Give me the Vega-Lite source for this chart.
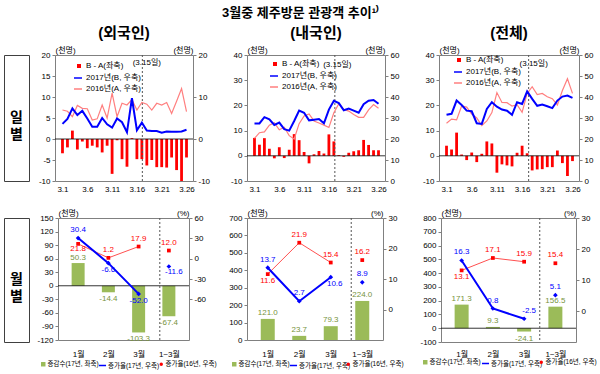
{
  "$schema": "https://vega.github.io/schema/vega-lite/v6.json",
  "padding": {"left": 3, "top": 6, "right": 0, "bottom": 0},
  "title": {"text": "3월중 제주방문 관광객 추이¹⁾", "fontSize": 13, "fontWeight": "bold", "anchor": "middle", "offset": 6},
  "datasets": {
    "daily": [
      {"d":1,"fd":-3.4,"f17":3.6,"f16":6.9,"nd":7.1,"n17":27.4,"n16":20.3,"td":4.0,"t17":31.5,"t16":27.5},
      {"d":2,"fd":-2.0,"f17":4.8,"f16":6.6,"nd":4.4,"n17":27.4,"n16":23.0,"td":2.5,"t17":32.0,"t16":29.5},
      {"d":3,"fd":2.0,"f17":7.3,"f16":5.3,"nd":7.0,"n17":30.4,"n16":23.4,"td":9.2,"t17":38.3,"t16":29.1},
      {"d":4,"fd":-2.5,"f17":5.7,"f16":8.0,"nd":2.8,"n17":29.4,"n16":26.6,"td":0.5,"t17":36.2,"t16":35.7},
      {"d":5,"fd":-0.6,"f17":6.7,"f16":7.3,"nd":-1.0,"n17":26.7,"n16":27.7,"td":-1.7,"t17":33.5,"t16":35.2},
      {"d":6,"fd":-2.2,"f17":4.9,"f16":7.2,"nd":3.4,"n17":27.8,"n16":24.4,"td":1.3,"t17":33.2,"t16":31.9},
      {"d":7,"fd":-1.6,"f17":2.9,"f16":4.5,"nd":-0.9,"n17":24.7,"n16":25.6,"td":-2.5,"t17":27.5,"t16":30.0},
      {"d":8,"fd":-2.0,"f17":2.9,"f16":4.8,"nd":2.4,"n17":24.0,"n16":21.6,"td":0.8,"t17":27.2,"t16":26.4},
      {"d":9,"fd":-3.2,"f17":5.0,"f16":8.1,"nd":8.6,"n17":28.6,"n16":20.0,"td":5.7,"t17":34.3,"t16":28.6},
      {"d":10,"fd":-1.6,"f17":3.5,"f16":5.0,"nd":6.2,"n17":33.5,"n16":27.3,"td":4.9,"t17":37.5,"t16":32.6},
      {"d":11,"fd":-8.3,"f17":2.7,"f16":10.9,"nd":1.5,"n17":32.5,"n16":31.0,"td":-6.7,"t17":35.4,"t16":42.1},
      {"d":12,"fd":-0.3,"f17":4.9,"f16":5.3,"nd":-3.0,"n17":28.9,"n16":31.9,"td":-3.4,"t17":34.0,"t16":37.4},
      {"d":13,"fd":-4.8,"f17":4.0,"f16":8.5,"nd":0.6,"n17":29.2,"n16":28.6,"td":-3.8,"t17":33.5,"t16":37.3},
      {"d":14,"fd":-6.6,"f17":1.6,"f16":8.1,"nd":1.9,"n17":29.5,"n16":27.6,"td":-4.2,"t17":31.5,"t16":35.7},
      {"d":15,"fd":0.2,"f17":9.7,"f16":9.4,"nd":0.9,"n17":27.5,"n16":26.6,"td":1.2,"t17":37.5,"t16":36.3},
      {"d":16,"fd":-4.8,"f17":2.1,"f16":6.9,"nd":8.5,"n17":34.0,"n16":25.5,"td":4.0,"t17":36.7,"t16":32.7},
      {"d":17,"fd":-4.8,"f17":3.9,"f16":8.7,"nd":5.7,"n17":38.2,"n16":32.5,"td":1.0,"t17":42.7,"t16":41.7},
      {"d":18,"fd":-6.3,"f17":2.0,"f16":8.3,"nd":0.3,"n17":37.1,"n16":36.8,"td":-5.8,"t17":39.1,"t16":44.9},
      {"d":19,"fd":-5.0,"f17":1.9,"f16":6.9,"nd":-0.4,"n17":33.7,"n16":34.1,"td":-5.4,"t17":35.8,"t16":41.2},
      {"d":20,"fd":-6.7,"f17":1.9,"f16":8.5,"nd":1.2,"n17":34.5,"n16":33.3,"td":-5.3,"t17":36.4,"t16":41.7},
      {"d":21,"fd":-6.7,"f17":1.5,"f16":8.1,"nd":1.8,"n17":33.5,"n16":31.7,"td":-4.5,"t17":35.6,"t16":40.1},
      {"d":22,"fd":-6.8,"f17":1.8,"f16":8.7,"nd":2.2,"n17":32.5,"n16":30.3,"td":-4.5,"t17":34.7,"t16":39.2},
      {"d":23,"fd":-4.4,"f17":1.7,"f16":6.1,"nd":6.3,"n17":36.6,"n16":30.3,"td":2.1,"t17":38.3,"t16":36.2},
      {"d":24,"fd":-7.4,"f17":1.7,"f16":9.0,"nd":4.3,"n17":38.2,"n16":33.9,"td":-2.9,"t17":40.2,"t16":43.1},
      {"d":25,"fd":-10.0,"f17":1.8,"f16":12.0,"nd":2.2,"n17":38.6,"n16":36.4,"td":-8.0,"t17":40.7,"t16":48.7},
      {"d":26,"fd":-4.4,"f17":2.2,"f16":6.5,"nd":2.2,"n17":36.8,"n16":34.6,"td":-2.1,"t17":39.6,"t16":41.7}
    ],
    "monthly": [
      {"g":"외국인","i":1,"bar":50.3,"r17":30.4,"r16":21.8},
      {"g":"외국인","i":2,"bar":-14.4,"r17":-6.6,"r16":1.2},
      {"g":"외국인","i":3,"bar":-103.3,"r17":-52.0,"r16":17.9},
      {"g":"외국인","i":4,"bar":-67.4,"r17":-11.6,"r16":12.0},
      {"g":"내국인","i":1,"bar":121.0,"r17":13.7,"r16":11.6},
      {"g":"내국인","i":2,"bar":23.7,"r17":2.7,"r16":21.9},
      {"g":"내국인","i":3,"bar":79.3,"r17":10.6,"r16":15.4},
      {"g":"내국인","i":4,"bar":224.0,"r17":8.9,"r16":16.2},
      {"g":"전체","i":1,"bar":171.3,"r17":16.3,"r16":13.1},
      {"g":"전체","i":2,"bar":9.3,"r17":0.8,"r16":17.1},
      {"g":"전체","i":3,"bar":-24.1,"r17":-2.5,"r16":15.9},
      {"g":"전체","i":4,"bar":156.5,"r17":5.1,"r16":15.4}
    ]
  },
  "spacing": 14,
  "resolve": {"scale": {"x": "independent", "y": "independent", "fill": "independent", "stroke": "independent", "color": "independent"}, "legend": {"fill": "independent", "stroke": "independent", "color": "independent"}},
  "vconcat": [
    {
      "spacing": 26,
      "bounds": "flush",
      "resolve": {"scale": {"x": "independent", "y": "independent", "fill": "independent", "stroke": "independent", "color": "independent"}, "legend": {"fill": "independent", "stroke": "independent", "color": "independent"}},
      "hconcat": [
        {"width": 25, "height": 126, "view": {"stroke": "#404040"}, "data": {"values": [{}]},
         "mark": {"type": "text", "fontSize": 14, "fontWeight": "bold", "lineHeight": 17},
         "encoding": {"text": {"value": ["일", "별"]}}},
        {
          "spacing": 54,
          "bounds": "flush",
          "resolve": {"scale": {"x": "independent", "y": "independent", "fill": "independent", "stroke": "independent", "color": "independent"}, "legend": {"fill": "independent", "stroke": "independent", "color": "independent"}},
          "hconcat": [
            {
              "width": 138, "height": 126,
              "data": {"name": "daily"},
              "title": {"text": "(외국인)", "fontSize": 15, "fontWeight": "bold", "offset": 5},
              "resolve": {"scale": {"y": "independent"}},
              "layer": [
                {"layer": [
                  {"mark": {"type": "bar", "width": 2.8},
                   "encoding": {
                     "x": {"field": "d", "type": "quantitative", "scale": {"domain": [0.5, 26.3], "nice": false, "zero": false}, "axis": {"values": [1,6,11,16,21,26], "tickCount": 40, "labelExpr": "'3.' + datum.value", "title": null, "ticks": false, "labelPadding": 4, "labelFlush": false, "labelOverlap": false}},
                     "y": {"field": "fd", "type": "quantitative", "scale": {"domain": [-10, 20], "nice": false}, "axis": {"values": [-10,-5,0,5,10,15,20], "tickCount": 40, "labelOverlap": false, "title": "(천명)", "titleAngle": 0, "titleAlign": "left", "titleBaseline": "bottom", "titleX": 0, "titleY": -1}},
                     "fill": {"datum": "B - A(좌축)", "type": "nominal", "scale": {"range": ["#FF0000"]}, "legend": {"orient": "none", "legendX": 20, "legendY": 7, "title": null, "symbolType": "square", "symbolSize": 16, "labelFontSize": 8, "padding": 0, "labelOffset": 3}}
                   }},
                  {"transform": [{"filter": "datum.d == 1"}], "mark": {"type": "rule", "color": "#000", "strokeWidth": 0.8}, "encoding": {"y": {"datum": 0}}},
                  {"transform": [{"filter": "datum.d == 1"}], "mark": {"type": "rule", "color": "#555", "strokeDash": [2, 2]}, "encoding": {"x": {"datum": 17.1}}},
                  {"transform": [{"filter": "datum.d == 1"}], "mark": {"type": "text", "fontSize": 8}, "encoding": {"x": {"datum": 18}, "y": {"datum": 18}, "text": {"value": "(3.15일)"}}}
                ]},
                {"layer": [
                  {"mark": {"type": "line", "strokeWidth": 1.2},
                   "encoding": {
                     "x": {"field": "d", "type": "quantitative", "scale": {"domain": [0.5, 26.3], "nice": false, "zero": false}},
                     "y": {"field": "f16", "type": "quantitative", "scale": {"domain": [-10, 20], "nice": false}, "axis": {"orient": "right", "values": [-10,0,10,20], "tickCount": 40, "labelOverlap": false, "title": "(천명)", "titleAngle": 0, "titleAlign": "right", "titleBaseline": "bottom", "titleX": 0, "titleY": -1}},
                     "stroke": {"datum": "2016년(A, 우축)", "type": "nominal", "scale": {"domain": ["2017년(B, 우축)", "2016년(A, 우축)"], "range": ["#0000FF", "#FF7F7F"]}, "legend": {"orient": "none", "legendX": 18, "legendY": 18, "title": null, "symbolType": "stroke", "symbolSize": 64, "symbolStrokeWidth": 1.5, "labelFontSize": 8, "padding": 0, "rowPadding": 2, "labelOffset": 3}}
                   }},
                  {"mark": {"type": "line", "strokeWidth": 2},
                   "encoding": {
                     "x": {"field": "d", "type": "quantitative"},
                     "y": {"field": "f17", "type": "quantitative", "scale": {"domain": [-10, 20], "nice": false}},
                     "stroke": {"datum": "2017년(B, 우축)", "type": "nominal"}
                   }}
                ]}
              ]
            },
            {
              "width": 138, "height": 126,
              "data": {"name": "daily"},
              "title": {"text": "(내국인)", "fontSize": 15, "fontWeight": "bold", "offset": 5},
              "resolve": {"scale": {"y": "independent"}},
              "layer": [
                {"layer": [
                  {"mark": {"type": "bar", "width": 2.8},
                   "encoding": {
                     "x": {"field": "d", "type": "quantitative", "scale": {"domain": [0.5, 26.3], "nice": false, "zero": false}, "axis": {"values": [1,6,11,16,21,26], "tickCount": 40, "labelExpr": "'3.' + datum.value", "title": null, "ticks": false, "labelPadding": 4, "labelFlush": false, "labelOverlap": false}},
                     "y": {"field": "nd", "type": "quantitative", "scale": {"domain": [-10, 40], "nice": false}, "axis": {"values": [-10,0,10,20,30,40], "tickCount": 40, "labelOverlap": false, "title": "(천명)", "titleAngle": 0, "titleAlign": "left", "titleBaseline": "bottom", "titleX": 0, "titleY": -1}},
                     "fill": {"datum": "B - A(좌축)", "type": "nominal", "scale": {"range": ["#FF0000"]}, "legend": {"orient": "none", "legendX": 24, "legendY": 5, "title": null, "symbolType": "square", "symbolSize": 16, "labelFontSize": 8, "padding": 0, "labelOffset": 3}}
                   }},
                  {"transform": [{"filter": "datum.d == 1"}], "mark": {"type": "rule", "color": "#000", "strokeWidth": 0.8}, "encoding": {"y": {"datum": 0}}},
                  {"transform": [{"filter": "datum.d == 1"}], "mark": {"type": "rule", "color": "#555", "strokeDash": [2, 2]}, "encoding": {"x": {"datum": 17.2}}},
                  {"transform": [{"filter": "datum.d == 1"}], "mark": {"type": "text", "fontSize": 8}, "encoding": {"x": {"datum": 17.7}, "y": {"datum": 36.2}, "text": {"value": "(3.15일)"}}}
                ]},
                {"layer": [
                  {"mark": {"type": "line", "strokeWidth": 1.2},
                   "encoding": {
                     "x": {"field": "d", "type": "quantitative", "scale": {"domain": [0.5, 26.3], "nice": false, "zero": false}},
                     "y": {"field": "n16", "type": "quantitative", "scale": {"domain": [0, 60], "nice": false}, "axis": {"orient": "right", "values": [0,10,20,30,40,50,60], "tickCount": 40, "labelOverlap": false, "title": "(천명)", "titleAngle": 0, "titleAlign": "right", "titleBaseline": "bottom", "titleX": 0, "titleY": -1}},
                     "stroke": {"datum": "2016년(A, 우축)", "type": "nominal", "scale": {"domain": ["2017년(B, 우축)", "2016년(A, 우축)"], "range": ["#0000FF", "#FF7F7F"]}, "legend": {"orient": "none", "legendX": 22, "legendY": 16, "title": null, "symbolType": "stroke", "symbolSize": 64, "symbolStrokeWidth": 1.5, "labelFontSize": 8, "padding": 0, "rowPadding": 2, "labelOffset": 3}}
                   }},
                  {"mark": {"type": "line", "strokeWidth": 2},
                   "encoding": {
                     "x": {"field": "d", "type": "quantitative"},
                     "y": {"field": "n17", "type": "quantitative", "scale": {"domain": [0, 60], "nice": false}},
                     "stroke": {"datum": "2017년(B, 우축)", "type": "nominal"}
                   }}
                ]}
              ]
            },
            {
              "width": 140, "height": 126,
              "data": {"name": "daily"},
              "title": {"text": "(전체)", "fontSize": 15, "fontWeight": "bold", "offset": 5},
              "resolve": {"scale": {"y": "independent"}},
              "layer": [
                {"layer": [
                  {"mark": {"type": "bar", "width": 2.8},
                   "encoding": {
                     "x": {"field": "d", "type": "quantitative", "scale": {"domain": [0.5, 26.3], "nice": false, "zero": false}, "axis": {"values": [1,6,11,16,21,26], "tickCount": 40, "labelExpr": "'3.' + datum.value", "title": null, "ticks": false, "labelPadding": 4, "labelFlush": false, "labelOverlap": false}},
                     "y": {"field": "td", "type": "quantitative", "scale": {"domain": [-10, 40], "nice": false}, "axis": {"values": [-10,0,10,20,30,40], "tickCount": 40, "labelOverlap": false, "title": "(천명)", "titleAngle": 0, "titleAlign": "left", "titleBaseline": "bottom", "titleX": 0, "titleY": -1}},
                     "fill": {"datum": "B - A(좌축)", "type": "nominal", "scale": {"range": ["#FF0000"]}, "legend": {"orient": "none", "legendX": 16, "legendY": 1, "title": null, "symbolType": "square", "symbolSize": 16, "labelFontSize": 8, "padding": 0, "labelOffset": 3}}
                   }},
                  {"transform": [{"filter": "datum.d == 1"}], "mark": {"type": "rule", "color": "#000", "strokeWidth": 0.8}, "encoding": {"y": {"datum": 0}}},
                  {"transform": [{"filter": "datum.d == 1"}], "mark": {"type": "rule", "color": "#555", "strokeDash": [2, 2]}, "encoding": {"x": {"datum": 17.3}}},
                  {"transform": [{"filter": "datum.d == 1"}], "mark": {"type": "text", "fontSize": 8}, "encoding": {"x": {"datum": 18.3}, "y": {"datum": 36.4}, "text": {"value": "(3.15일)"}}}
                ]},
                {"layer": [
                  {"mark": {"type": "line", "strokeWidth": 1.2},
                   "encoding": {
                     "x": {"field": "d", "type": "quantitative", "scale": {"domain": [0.5, 26.3], "nice": false, "zero": false}},
                     "y": {"field": "t16", "type": "quantitative", "scale": {"domain": [0, 60], "nice": false}, "axis": {"orient": "right", "values": [0,10,20,30,40,50,60], "tickCount": 40, "labelOverlap": false, "title": "(천명)", "titleAngle": 0, "titleAlign": "right", "titleBaseline": "bottom", "titleX": 0, "titleY": -1}},
                     "stroke": {"datum": "2016년(A, 우축)", "type": "nominal", "scale": {"domain": ["2017년(B, 우축)", "2016년(A, 우축)"], "range": ["#0000FF", "#FF7F7F"]}, "legend": {"orient": "none", "legendX": 14, "legendY": 12, "title": null, "symbolType": "stroke", "symbolSize": 64, "symbolStrokeWidth": 1.5, "labelFontSize": 8, "padding": 0, "rowPadding": 2, "labelOffset": 3}}
                   }},
                  {"mark": {"type": "line", "strokeWidth": 2},
                   "encoding": {
                     "x": {"field": "d", "type": "quantitative"},
                     "y": {"field": "t17", "type": "quantitative", "scale": {"domain": [0, 60], "nice": false}},
                     "stroke": {"datum": "2017년(B, 우축)", "type": "nominal"}
                   }}
                ]}
              ]
            }
          ]
        }
      ]
    },
    {
      "spacing": 29,
      "bounds": "flush",
      "resolve": {"scale": {"x": "independent", "y": "independent", "fill": "independent", "stroke": "independent", "color": "independent"}, "legend": {"fill": "independent", "stroke": "independent", "color": "independent"}},
      "hconcat": [
        {"width": 25, "height": 124, "view": {"stroke": "#404040"}, "data": {"values": [{}]},
         "mark": {"type": "text", "fontSize": 14, "fontWeight": "bold", "lineHeight": 17},
         "encoding": {"text": {"value": ["월", "별"]}}},
        {
          "spacing": 58,
          "bounds": "flush",
          "resolve": {"scale": {"x": "independent", "y": "independent", "fill": "independent", "stroke": "independent", "color": "independent"}, "legend": {"fill": "independent", "stroke": "independent", "color": "independent"}},
          "hconcat": [
            {
              "width": 131, "height": 122,
              "data": {"name": "monthly"},
              "transform": [{"filter": "datum.g == '외국인'"}],
              "resolve": {"scale": {"y": "independent"}},
              "layer": [
                {"layer": [
                  {"mark": {"type": "bar", "width": 13},
                   "encoding": {
                     "x": {"field": "i", "type": "quantitative", "scale": {"domain": [0.5, 4.5], "nice": false, "zero": false}, "axis": {"values": [1,2,3,4], "tickCount": 40, "labelExpr": "['', '1월', '2월', '3월', '1~3월'][datum.value]", "title": null, "ticks": false, "labelPadding": 10, "labelFlush": false, "labelOverlap": false}},
                     "y": {"field": "bar", "type": "quantitative", "scale": {"domain": [-120, 150], "nice": false}, "axis": {"values": [-120,-90,-60,-30,0,30,60,90,120,150], "tickCount": 40, "labelOverlap": false, "title": "(천명)", "titleAngle": 0, "titleAlign": "left", "titleBaseline": "bottom", "titleX": 0, "titleY": -1}},
                     "fill": {"datum": "증감수(17년, 좌축)", "type": "nominal", "scale": {"range": ["#9BBB59"]}, "legend": {"orient": "none", "legendX": -18, "legendY": 143, "title": null, "symbolType": "square", "symbolSize": 20, "labelFontSize": 6.5, "padding": 0, "labelOffset": 1}}
                   }},
                  {"transform": [{"filter": "datum.i == 1"}], "mark": {"type": "rule", "color": "#000", "strokeWidth": 0.8}, "encoding": {"y": {"datum": 0}}},
                  {"transform": [{"filter": "datum.i == 1"}], "mark": {"type": "rule", "color": "#555", "strokeDash": [2, 2]}, "encoding": {"x": {"datum": 3.7}}},
                  {"transform": [{"filter": "datum.bar >= 0"}], "mark": {"type": "text", "baseline": "bottom", "dy": -1, "fontSize": 8, "color": "#77933C"},
                   "encoding": {"x": {"field": "i", "type": "quantitative"}, "y": {"field": "bar", "type": "quantitative"}, "text": {"field": "bar", "type": "quantitative", "format": ".1f"}}},
                  {"transform": [{"filter": "datum.bar < 0"}], "mark": {"type": "text", "baseline": "top", "dy": 3, "fontSize": 8, "color": "#77933C"},
                   "encoding": {"x": {"field": "i", "type": "quantitative"}, "y": {"field": "bar", "type": "quantitative"}, "text": {"field": "bar", "type": "quantitative", "format": ".1f"}}}
                ]},
                {"layer": [
                  {"transform": [{"filter": "datum.i <= 3"}], "mark": {"type": "line", "strokeWidth": 1, "color": "#FF5050"},
                   "encoding": {
                     "x": {"field": "i", "type": "quantitative", "scale": {"domain": [0.5, 4.5], "nice": false, "zero": false}},
                     "y": {"field": "r16", "type": "quantitative", "scale": {"domain": [-120, 60], "nice": false}, "axis": {"orient": "right", "values": [-60,-30,0,30,60], "tickCount": 40, "labelOverlap": false, "title": "(%)", "titleAngle": 0, "titleAlign": "right", "titleBaseline": "bottom", "titleX": 0, "titleY": -1}}
                   }},
                  {"transform": [{"filter": "datum.i <= 3"}], "mark": {"type": "line", "strokeWidth": 2},
                   "encoding": {"x": {"field": "i", "type": "quantitative"}, "y": {"field": "r17", "type": "quantitative", "scale": {"domain": [-120, 60], "nice": false}},
                     "stroke": {"datum": "증가율(17년, 우축)", "type": "nominal", "scale": {"range": ["#0000FF"]}, "legend": {"orient": "none", "legendX": 40, "legendY": 143, "title": null, "symbolType": "stroke", "symbolSize": 50, "symbolStrokeWidth": 1.5, "labelFontSize": 6.5, "padding": 0, "labelOffset": 1}}}},
                  {"mark": {"type": "point", "filled": true, "shape": "square", "size": 14, "opacity": 1},
                   "encoding": {"x": {"field": "i", "type": "quantitative"}, "y": {"field": "r16", "type": "quantitative"},
                     "color": {"datum": "증가율(16년, 우축)", "type": "nominal", "scale": {"range": ["#FF0000"]}, "legend": {"orient": "none", "legendX": 100, "legendY": 143, "title": null, "symbolType": "circle", "symbolSize": 12, "labelFontSize": 6.5, "padding": 0, "labelOffset": 1}}}},
                  {"mark": {"type": "point", "filled": true, "shape": "diamond", "size": 22, "color": "#0000FF", "opacity": 1},
                   "encoding": {"x": {"field": "i", "type": "quantitative"}, "y": {"field": "r17", "type": "quantitative"}}},
                  {"transform": [{"filter": "datum.i == 1"}], "mark": {"type": "text", "baseline": "bottom", "dy": -4, "fontSize": 8, "color": "#0000FF"},
                   "encoding": {"x": {"field": "i", "type": "quantitative"}, "y": {"field": "r17", "type": "quantitative"}, "text": {"field": "r17", "type": "quantitative", "format": ".1f"}}},
                  {"transform": [{"filter": "datum.i == 2 || datum.i == 3"}], "mark": {"type": "text", "baseline": "top", "dy": 3, "fontSize": 8, "color": "#0000FF"},
                   "encoding": {"x": {"field": "i", "type": "quantitative"}, "y": {"field": "r17", "type": "quantitative"}, "text": {"field": "r17", "type": "quantitative", "format": ".1f"}}},
                  {"transform": [{"filter": "datum.i == 4"}], "mark": {"type": "text", "baseline": "top", "dy": 1, "dx": 5, "fontSize": 8, "color": "#0000FF"},
                   "encoding": {"x": {"field": "i", "type": "quantitative"}, "y": {"field": "r17", "type": "quantitative"}, "text": {"field": "r17", "type": "quantitative", "format": ".1f"}}},
                  {"transform": [{"filter": "datum.i != 1"}], "mark": {"type": "text", "baseline": "bottom", "dy": -4, "fontSize": 8, "color": "#FF0000"},
                   "encoding": {"x": {"field": "i", "type": "quantitative"}, "y": {"field": "r16", "type": "quantitative"}, "text": {"field": "r16", "type": "quantitative", "format": ".1f"}}},
                  {"transform": [{"filter": "datum.i == 1"}], "mark": {"type": "text", "baseline": "top", "dy": 1, "fontSize": 8, "color": "#FF0000"},
                   "encoding": {"x": {"field": "i", "type": "quantitative"}, "y": {"field": "r16", "type": "quantitative"}, "text": {"field": "r16", "type": "quantitative", "format": ".1f"}}}
                ]}
              ]
            },
            {
              "width": 136, "height": 122,
              "data": {"name": "monthly"},
              "transform": [{"filter": "datum.g == '내국인'"}],
              "resolve": {"scale": {"y": "independent"}},
              "layer": [
                {"layer": [
                  {"mark": {"type": "bar", "width": 14},
                   "encoding": {
                     "x": {"field": "i", "type": "quantitative", "scale": {"domain": [0.5, 4.5], "nice": false, "zero": false}, "axis": {"values": [1,2,3,4], "tickCount": 40, "labelExpr": "['', '1월', '2월', '3월', '1~3월'][datum.value]", "title": null, "ticks": false, "labelPadding": 10, "labelFlush": false, "labelOverlap": false}},
                     "y": {"field": "bar", "type": "quantitative", "scale": {"domain": [0, 700], "nice": false}, "axis": {"values": [0,100,200,300,400,500,600,700], "tickCount": 40, "labelOverlap": false, "title": "(천명)", "titleAngle": 0, "titleAlign": "left", "titleBaseline": "bottom", "titleX": 0, "titleY": -1}},
                     "fill": {"datum": "증감수(17년, 좌축)", "type": "nominal", "scale": {"range": ["#9BBB59"]}, "legend": {"orient": "none", "legendX": -16, "legendY": 143, "title": null, "symbolType": "square", "symbolSize": 20, "labelFontSize": 6.5, "padding": 0, "labelOffset": 1}}
                   }},
                  {"transform": [{"filter": "datum.i == 1"}], "mark": {"type": "rule", "color": "#555", "strokeDash": [2, 2]}, "encoding": {"x": {"datum": 3.65}}},
                  {"transform": [{"filter": "datum.bar >= 0"}], "mark": {"type": "text", "baseline": "bottom", "dy": -2, "fontSize": 8, "color": "#77933C"},
                   "encoding": {"x": {"field": "i", "type": "quantitative"}, "y": {"field": "bar", "type": "quantitative"}, "text": {"field": "bar", "type": "quantitative", "format": ".1f"}}}
                ]},
                {"layer": [
                  {"transform": [{"filter": "datum.i <= 3"}], "mark": {"type": "line", "strokeWidth": 1, "color": "#FF5050"},
                   "encoding": {
                     "x": {"field": "i", "type": "quantitative", "scale": {"domain": [0.5, 4.5], "nice": false, "zero": false}},
                     "y": {"field": "r16", "type": "quantitative", "scale": {"domain": [-10, 30], "nice": false}, "axis": {"orient": "right", "values": [0,10,20,30], "tickCount": 40, "labelOverlap": false, "title": "(%)", "titleAngle": 0, "titleAlign": "right", "titleBaseline": "bottom", "titleX": 0, "titleY": -1}}
                   }},
                  {"transform": [{"filter": "datum.i <= 3"}], "mark": {"type": "line", "strokeWidth": 2},
                   "encoding": {"x": {"field": "i", "type": "quantitative"}, "y": {"field": "r17", "type": "quantitative", "scale": {"domain": [-10, 30], "nice": false}},
                     "stroke": {"datum": "증가율(17년, 우축)", "type": "nominal", "scale": {"range": ["#0000FF"]}, "legend": {"orient": "none", "legendX": 42, "legendY": 143, "title": null, "symbolType": "stroke", "symbolSize": 50, "symbolStrokeWidth": 1.5, "labelFontSize": 6.5, "padding": 0, "labelOffset": 1}}}},
                  {"mark": {"type": "point", "filled": true, "shape": "square", "size": 14, "opacity": 1},
                   "encoding": {"x": {"field": "i", "type": "quantitative"}, "y": {"field": "r16", "type": "quantitative"},
                     "color": {"datum": "증가율(16년, 우축)", "type": "nominal", "scale": {"range": ["#FF0000"]}, "legend": {"orient": "none", "legendX": 98, "legendY": 143, "title": null, "symbolType": "circle", "symbolSize": 12, "labelFontSize": 6.5, "padding": 0, "labelOffset": 1}}}},
                  {"mark": {"type": "point", "filled": true, "shape": "diamond", "size": 22, "color": "#0000FF", "opacity": 1},
                   "encoding": {"x": {"field": "i", "type": "quantitative"}, "y": {"field": "r17", "type": "quantitative"}}},
                  {"transform": [{"filter": "datum.i != 3"}], "mark": {"type": "text", "baseline": "bottom", "dy": -4, "fontSize": 8, "color": "#0000FF"},
                   "encoding": {"x": {"field": "i", "type": "quantitative"}, "y": {"field": "r17", "type": "quantitative"}, "text": {"field": "r17", "type": "quantitative", "format": ".1f"}}},
                  {"transform": [{"filter": "datum.i == 3"}], "mark": {"type": "text", "baseline": "top", "dy": 3, "dx": 4, "fontSize": 8, "color": "#0000FF"},
                   "encoding": {"x": {"field": "i", "type": "quantitative"}, "y": {"field": "r17", "type": "quantitative"}, "text": {"field": "r17", "type": "quantitative", "format": ".1f"}}},
                  {"transform": [{"filter": "datum.i != 1"}], "mark": {"type": "text", "baseline": "bottom", "dy": -4, "fontSize": 8, "color": "#FF0000"},
                   "encoding": {"x": {"field": "i", "type": "quantitative"}, "y": {"field": "r16", "type": "quantitative"}, "text": {"field": "r16", "type": "quantitative", "format": ".1f"}}},
                  {"transform": [{"filter": "datum.i == 1"}], "mark": {"type": "text", "baseline": "top", "dy": 3, "fontSize": 8, "color": "#FF0000"},
                   "encoding": {"x": {"field": "i", "type": "quantitative"}, "y": {"field": "r16", "type": "quantitative"}, "text": {"field": "r16", "type": "quantitative", "format": ".1f"}}}
                ]}
              ]
            },
            {
              "width": 135, "height": 124,
              "data": {"name": "monthly"},
              "transform": [{"filter": "datum.g == '전체'"}],
              "resolve": {"scale": {"y": "independent"}},
              "layer": [
                {"layer": [
                  {"mark": {"type": "bar", "width": 14},
                   "encoding": {
                     "x": {"field": "i", "type": "quantitative", "scale": {"domain": [0.5, 4.5], "nice": false, "zero": false}, "axis": {"values": [1,2,3,4], "tickCount": 40, "labelExpr": "['', '1월', '2월', '3월', '1~3월'][datum.value]", "title": null, "ticks": false, "labelPadding": 8, "labelFlush": false, "labelOverlap": false}},
                     "y": {"field": "bar", "type": "quantitative", "scale": {"domain": [-100, 800], "nice": false}, "axis": {"values": [-100,0,100,200,300,400,500,600,700,800], "tickCount": 40, "labelOverlap": false, "title": "(천명)", "titleAngle": 0, "titleAlign": "left", "titleBaseline": "bottom", "titleX": 0, "titleY": -1}},
                     "fill": {"datum": "증감수(17년, 좌축)", "type": "nominal", "scale": {"range": ["#9BBB59"]}, "legend": {"orient": "none", "legendX": -19, "legendY": 141, "title": null, "symbolType": "square", "symbolSize": 20, "labelFontSize": 6.5, "padding": 0, "labelOffset": 1}}
                   }},
                  {"transform": [{"filter": "datum.i == 1"}], "mark": {"type": "rule", "color": "#000", "strokeWidth": 0.8}, "encoding": {"y": {"datum": 0}}},
                  {"transform": [{"filter": "datum.i == 1"}], "mark": {"type": "rule", "color": "#555", "strokeDash": [2, 2]}, "encoding": {"x": {"datum": 3.5}}},
                  {"transform": [{"filter": "datum.bar >= 0"}], "mark": {"type": "text", "baseline": "bottom", "dy": -2, "fontSize": 8, "color": "#77933C"},
                   "encoding": {"x": {"field": "i", "type": "quantitative"}, "y": {"field": "bar", "type": "quantitative"}, "text": {"field": "bar", "type": "quantitative", "format": ".1f"}}},
                  {"transform": [{"filter": "datum.bar < 0"}], "mark": {"type": "text", "baseline": "top", "dy": 3, "fontSize": 8, "color": "#77933C"},
                   "encoding": {"x": {"field": "i", "type": "quantitative"}, "y": {"field": "bar", "type": "quantitative"}, "text": {"field": "bar", "type": "quantitative", "format": ".1f"}}}
                ]},
                {"layer": [
                  {"transform": [{"filter": "datum.i <= 3"}], "mark": {"type": "line", "strokeWidth": 1, "color": "#FF5050"},
                   "encoding": {
                     "x": {"field": "i", "type": "quantitative", "scale": {"domain": [0.5, 4.5], "nice": false, "zero": false}},
                     "y": {"field": "r16", "type": "quantitative", "scale": {"domain": [-10, 30], "nice": false}, "axis": {"orient": "right", "values": [0,10,20,30], "tickCount": 40, "labelOverlap": false, "title": "(%)", "titleAngle": 0, "titleAlign": "right", "titleBaseline": "bottom", "titleX": 0, "titleY": -1}}
                   }},
                  {"transform": [{"filter": "datum.i <= 3"}], "mark": {"type": "line", "strokeWidth": 2},
                   "encoding": {"x": {"field": "i", "type": "quantitative"}, "y": {"field": "r17", "type": "quantitative", "scale": {"domain": [-10, 30], "nice": false}},
                     "stroke": {"datum": "증가율(17년, 우축)", "type": "nominal", "scale": {"range": ["#0000FF"]}, "legend": {"orient": "none", "legendX": 40, "legendY": 141, "title": null, "symbolType": "stroke", "symbolSize": 50, "symbolStrokeWidth": 1.5, "labelFontSize": 6.5, "padding": 0, "labelOffset": 1}}}},
                  {"mark": {"type": "point", "filled": true, "shape": "square", "size": 14, "opacity": 1},
                   "encoding": {"x": {"field": "i", "type": "quantitative"}, "y": {"field": "r16", "type": "quantitative"},
                     "color": {"datum": "증가율(16년, 우축)", "type": "nominal", "scale": {"range": ["#FF0000"]}, "legend": {"orient": "none", "legendX": 97, "legendY": 141, "title": null, "symbolType": "circle", "symbolSize": 12, "labelFontSize": 6.5, "padding": 0, "labelOffset": 1}}}},
                  {"mark": {"type": "point", "filled": true, "shape": "diamond", "size": 22, "color": "#0000FF", "opacity": 1},
                   "encoding": {"x": {"field": "i", "type": "quantitative"}, "y": {"field": "r17", "type": "quantitative"}}},
                  {"transform": [{"filter": "datum.i != 3"}], "mark": {"type": "text", "baseline": "bottom", "dy": -4, "fontSize": 8, "color": "#0000FF"},
                   "encoding": {"x": {"field": "i", "type": "quantitative"}, "y": {"field": "r17", "type": "quantitative"}, "text": {"field": "r17", "type": "quantitative", "format": ".1f"}}},
                  {"transform": [{"filter": "datum.i == 3"}], "mark": {"type": "text", "baseline": "bottom", "dy": -4, "dx": 5, "fontSize": 8, "color": "#0000FF"},
                   "encoding": {"x": {"field": "i", "type": "quantitative"}, "y": {"field": "r17", "type": "quantitative"}, "text": {"field": "r17", "type": "quantitative", "format": ".1f"}}},
                  {"transform": [{"filter": "datum.i != 1"}], "mark": {"type": "text", "baseline": "bottom", "dy": -4, "fontSize": 8, "color": "#FF0000"},
                   "encoding": {"x": {"field": "i", "type": "quantitative"}, "y": {"field": "r16", "type": "quantitative"}, "text": {"field": "r16", "type": "quantitative", "format": ".1f"}}},
                  {"transform": [{"filter": "datum.i == 1"}], "mark": {"type": "text", "baseline": "top", "dy": 3, "fontSize": 8, "color": "#FF0000"},
                   "encoding": {"x": {"field": "i", "type": "quantitative"}, "y": {"field": "r16", "type": "quantitative"}, "text": {"field": "r16", "type": "quantitative", "format": ".1f"}}}
                ]}
              ]
            }
          ]
        }
      ]
    }
  ],
  "config": {
    "font": "Liberation Sans, Noto Sans CJK KR, sans-serif",
    "view": {"stroke": "#808080", "strokeWidth": 1},
    "axis": {"grid": false, "domain": false, "labelFontSize": 8, "labelColor": "#000", "labelOverlap": false, "tickColor": "#808080", "tickSize": 3, "titleFontSize": 8, "titleFontWeight": "normal", "titleColor": "#000", "labelPadding": 2},
    "legend": {"labelColor": "#000"},
    "locale": {"number": {"decimal": ".", "thousands": ",", "grouping": [3], "currency": ["", ""], "minus": "-"}}
  }
}
